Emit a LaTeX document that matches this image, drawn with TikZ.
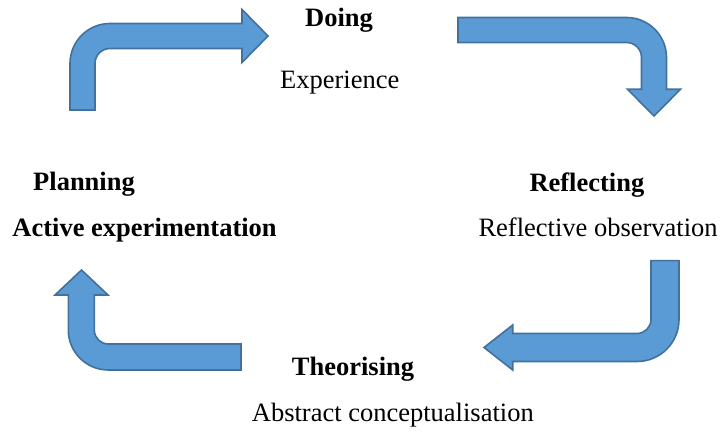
\documentclass[tikz,border=0pt]{standalone}
\usepackage{fontspec}
\setmainfont{Liberation Serif}
\definecolor{arrowfill}{HTML}{5B9BD5}
\definecolor{arrowline}{HTML}{41719C}
\tikzset{
	bentarrow/.style={fill=arrowfill,draw=arrowline,line width=1.6pt,line join=miter},
	lbl/.style={anchor=base west,inner sep=0pt,font=\fontsize{26.5}{30}\selectfont}
}
\begin{document}
\begin{tikzpicture}[x=1pt,y=1pt]
		\useasboundingbox (0,0) rectangle (721,436);
		% bent arrows
		\draw[bentarrow] (70,326)--(70,372.5) arc[start angle=180,end angle=90,radius=40]--(242,412.5)--(242,426.5)--(268,400)--(242,373.5)--(242,387.5)--(110,387.5) arc[start angle=90,end angle=180,radius=15]--(95,326)--cycle;
		\draw[bentarrow] (458,418.5)--(626.5,418.5) arc[start angle=90,end angle=0,radius=40]--(666.5,346.7)--(680.5,346.7)--(654,320)--(627.5,346.7)--(641.5,346.7)--(641.5,378.5) arc[start angle=0,end angle=90,radius=15]--(458,393.5)--cycle;
		\draw[bentarrow] (651,175.3)--(679,175.3)--(679,116.5) arc[start angle=0,end angle=-90,radius=42]--(512.7,74.5)--(512.7,66)--(484,88.5)--(512.7,111)--(512.7,102.5)--(637,102.5) arc[start angle=-90,end angle=0,radius=14]--cycle;
		\draw[bentarrow] (241,92)--(241,66)--(108.3,66) arc[start angle=-90,end angle=-180,radius=40]--(68.3,141)--(55,141)--(81.5,166)--(108,141)--(94.3,141)--(94.3,106) arc[start angle=180,end angle=270,radius=14]--cycle;
		% labels
		\node[lbl] (doing) at (305,409.3) {\textbf{Doing}};
		\node[lbl] (exp) at (280,347.7) {Experience};
		\node[lbl] (refl) at (529.3,244.3) {\textbf{Reflecting}};
		\node[lbl] (obs) at (478.3,199.3) {Reflective observation};
		\node[lbl] (theo) at (291.7,60) {\textbf{Theorising}};
		\node[lbl] (abs) at (251.7,14.3) {Abstract conceptualisation};
		\node[lbl] (plan) at (33,245) {\textbf{Planning}};
		\node[lbl] (act) at (12.3,199.3) {\textbf{Active experimentation}};
\end{tikzpicture}
\end{document}
